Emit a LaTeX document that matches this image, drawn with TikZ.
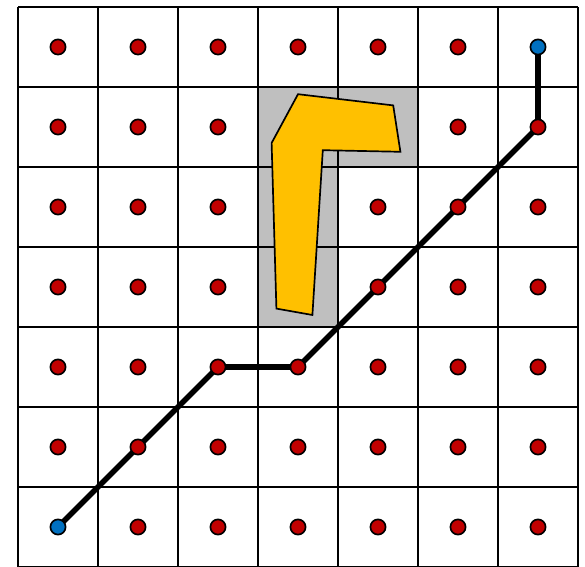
\documentclass[tikz,border=0pt]{standalone}
\usepackage{tikz}
\usetikzlibrary{backgrounds}
\definecolor{DotRed}{RGB}{192,0,0}
\definecolor{DotBlue}{RGB}{0,112,192}
\definecolor{BlockGray}{RGB}{191,191,191}
\definecolor{ShapeYellow}{RGB}{255,192,0}
\pgfdeclarelayer{routelayer}
\pgfsetlayers{background,routelayer,main}

\begin{document}
\begin{tikzpicture}[x=1cm, y=1cm,
		dot/.style={circle, draw=black, line width=0.6pt, inner sep=0pt, minimum size=0.19cm},
		route/.style={line width=2pt, line join=round},
		cellgrid/.style={line width=0.7pt}]
		\useasboundingbox (-0.225,0.0125) rectangle (7.0875,7.0875);
		
		\begin{pgfonlayer}{background}
			% blocked cells
			\fill[BlockGray] (3,5) rectangle (5,6);
			\fill[BlockGray] (3,3) rectangle (4,5);
			\draw[cellgrid] (0,0) grid (7,7);
			% obstacle
			\draw[fill=ShapeYellow, line width=0.6pt] (3.50,5.91) -- (4.69,5.77) -- (4.78,5.19) -- (3.81,5.21) -- (3.68,3.15) -- (3.23,3.23) -- (3.17,5.30) -- cycle;
		\end{pgfonlayer}
		
		\foreach \i in {0,...,6} {
			\foreach \j in {0,...,6} {
				\pgfmathtruncatemacro{\blocked}{(\i==3)*(\j>2)*(\j<6)+(\i==4)*(\j==5)}
				\pgfmathtruncatemacro{\isend}{(\i==0)*(\j==0)+(\i==6)*(\j==6)}
				\ifnum\isend=1 \def\dotcol{DotBlue}\else\def\dotcol{DotRed}\fi
				\ifnum\blocked=0
					\node[dot, fill=\dotcol] (c-\i-\j) at (\i+0.5,\j+0.5) {};
				\fi
			}
		}
		
		\begin{pgfonlayer}{routelayer}
			\draw[route] (c-0-0.center) -- (c-1-1.center) -- (c-2-2.center) -- (c-3-2.center) -- (c-4-3.center) -- (c-5-4.center) -- (c-6-5.center) -- (c-6-6.center);
		\end{pgfonlayer}
	\end{tikzpicture}
\end{document}
